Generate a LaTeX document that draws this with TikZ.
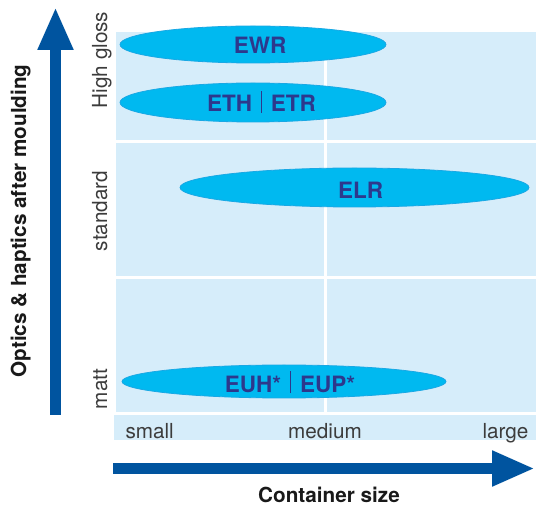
\documentclass[tikz,border=0pt]{standalone}
\usepackage{fontspec}
\setmainfont{TeX Gyre Heros}
\usetikzlibrary{shapes.geometric, positioning, arrows.meta}
\definecolor{panel}{RGB}{214,237,250}
\definecolor{ovalfill}{RGB}{0,185,240}
\definecolor{ovalrim}{RGB}{25,168,228}
\definecolor{ink}{RGB}{45,56,140}
\definecolor{axisblue}{RGB}{0,84,159}
\definecolor{mygrey}{RGB}{60,60,60}
\newcommand\pw{420pt}
\newcommand\fs{\fontsize{20.7}{24}\selectfont}
\newcommand\vbar{\hspace{9pt}\rule[-1pt]{0.8pt}{22pt}\hspace{9pt}}

\begin{document}
\begin{tikzpicture}[x=1pt, y=1pt,
    box/.style={fill=panel, inner sep=0pt, outer sep=0pt, minimum width=\pw},
    oval/.style={ellipse, fill=ovalfill, draw=ovalrim, line width=0.8pt, inner sep=0pt},
    tag/.style={anchor=base, text=ink, font=\fontsize{22.5}{24}\selectfont\bfseries},
    grade/.style={rotate=90, anchor=base, text=mygrey, font=\fs},
    sizelbl/.style={anchor=base, text=mygrey, font=\fs},
    big/.style={-{Triangle[length=43pt, width=33pt]}, line width=11pt, axisblue}]
    \useasboundingbox (0,0) rectangle (536,509);

    % panels
    \node (gloss) [box, minimum height=108pt, anchor=north west] at (116,477) {};
    \node (std) [box, minimum height=133pt, below=3pt of gloss] {};
    \node (mat) [box, minimum height=133pt, below=3pt of std] {};
    \node (scale) [box, minimum height=25pt, minimum width=422pt, below=3pt of mat, xshift=-1pt] {};
    \draw[white, line width=3pt] ([xshift=-0.5pt]mat.south) -- ([xshift=-0.5pt]gloss.north);

    % grades
    \node (ewr) [oval, minimum width=266pt, minimum height=37pt] at (253,464.5) {};
    \node (ewrt) [tag] at (260,455) {EWR};
    \node (eth) [oval, minimum width=266pt, minimum height=39pt] at (253,406.5) {};
    \node (etht) [tag] at (261.5,397) {ETH\vbar ETR};
    \node (elr) [oval, minimum width=349pt, minimum height=39pt] at (354.5,321.5) {};
    \node (elrt) [tag] at (360.5,310.7) {ELR};
    \node (euh) [oval, minimum width=324pt, minimum height=33pt] at (284,127.5) {};
    \node (euht) [tag] at (290,116.7) {EUH*\vbar EUP*};

    % axes
    \coordinate (ybase) at (55.5,94);
    \coordinate (ytip) at (55.5,502);
    \draw[big] (ybase) -- (ytip);
    \coordinate (xbase) at (113,40.5);
    \coordinate (xtip) at (535,40.5);
    \draw[big] (xbase) -- (xtip);

    \node (optics) [rotate=90, anchor=base, font=\fs\bfseries, text=black!90] at (26,288) {Optics \& haptics after moulding};
    \node (high) [grade] at (107,449) {High gloss};
    \node (stand) [grade] at (107,298) {standard};
    \node (matt) [grade] at (107,120) {matt};

    \node (small) [sizelbl, anchor=base west] at (122,70) {small};
    \node (medium) [sizelbl] at (325,70) {medium};
    \node (large) [sizelbl, anchor=base east] at (532,70) {large};
    \node (csize) [anchor=base, font=\fs\bfseries, text=black!90] at (329,6) {Container size};
\end{tikzpicture}
\end{document}
